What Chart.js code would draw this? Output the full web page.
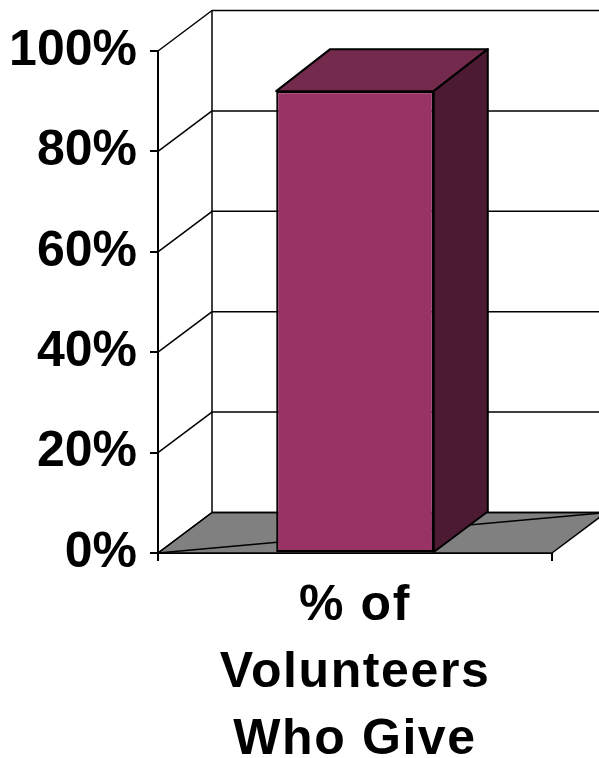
<!DOCTYPE html>
<html>
<head>
<meta charset="utf-8">
<script src="https://cdn.jsdelivr.net/npm/chart.js@4/dist/chart.umd.min.js"></script>
<style>
  html, body { margin: 0; padding: 0; background: #fff; }
  canvas { display: block; }
</style>
</head>
<body>
<canvas id="giveChart" width="599" height="758"></canvas>
<script>
// one category, share of volunteers who also give
const categories = [['% of', 'Volunteers', 'Who Give']];
const shareValues = [0.92];
const tickValues = [0, 0.2, 0.4, 0.6, 0.8, 1];

const FONT = "'Liberation Sans', Arial, sans-serif";
// depth of the box (offset from the front plane to the back wall)
const DX = 54;
const DY = -40.5;

function poly(ctx, pts, fill){
  ctx.beginPath();
  ctx.moveTo(pts[0][0], pts[0][1]);
  for(let i = 1; i < pts.length; i++) ctx.lineTo(pts[i][0], pts[i][1]);
  ctx.closePath();
  if(fill){ ctx.fillStyle = fill; ctx.fill(); }
  ctx.stroke();
}

const box3d = {
  id: 'box3d',
  beforeDatasetsDraw(chart){
    const ctx = chart.ctx;
    const {left, right, top, bottom} = chart.chartArea;
    const y = chart.scales.y;
    ctx.save();
    ctx.strokeStyle = '#000';
    ctx.lineWidth = 1.5;
    ctx.lineJoin = 'round';

    // grey floor, with the diagonal seam across it
    poly(ctx, [[left, bottom], [right, bottom], [right + DX, bottom + DY], [left + DX, bottom + DY]], '#808080');
    ctx.beginPath();
    ctx.moveTo(left, bottom);
    ctx.lineTo(right + DX, bottom + DY);
    ctx.stroke();

    // side wall diagonals and back wall gridlines
    tickValues.forEach(v => {
      const py = y.getPixelForValue(v);
      ctx.beginPath();
      ctx.moveTo(left, py);
      ctx.lineTo(left + DX, py + DY);
      ctx.lineTo(right + DX, py + DY);
      ctx.stroke();
    });

    // back wall corner
    ctx.beginPath();
    ctx.moveTo(left + DX, top + DY);
    ctx.lineTo(left + DX, bottom + DY);
    ctx.stroke();
    ctx.restore();
  },
  afterDatasetsDraw(chart){
    const ctx = chart.ctx;
    ctx.save();
    ctx.strokeStyle = '#000';
    ctx.lineWidth = 2;
    ctx.lineJoin = 'round';
    chart.getDatasetMeta(0).data.forEach(bar => {
      const x0 = bar.x - bar.width / 2;
      const x1 = bar.x + bar.width / 2;
      const yt = bar.y;
      const yb = bar.base;
      // top face
      poly(ctx, [[x0, yt], [x1, yt], [x1 + DX, yt + DY - 1.5], [x0 + DX, yt + DY - 1.5]], '#732A4D');
      // right side face
      poly(ctx, [[x1, yt], [x1 + DX, yt + DY - 1.5], [x1 + DX, yb + DY], [x1, yb]], '#4D1A33');
    });
    ctx.restore();
  }
};

// category labels are set a little wider than the tick labels
function spaceLabels(s){
  if(s._spaced) return;
  const draw = s.drawLabels.bind(s);
  s.drawLabels = area => {
    s.ctx.save();
    s.ctx.letterSpacing = '1.6px';
    draw(area);
    s.ctx.restore();
  };
  s._spaced = true;
}

const ctx = document.getElementById('giveChart').getContext('2d');
const chart = new Chart(ctx, {
  type: 'bar',
  data: {
    labels: categories,
    datasets: [{
      data: shareValues,
      backgroundColor: '#993366',
      borderColor: '#000',
      borderWidth: 2,
      borderSkipped: false,
      barPercentage: 0.4,
      categoryPercentage: 1
    }]
  },
  plugins: [box3d],
  options: {
    responsive: false,
    animation: false,
    devicePixelRatio: 1,
    layout: { padding: { top: 51, right: 47, left: 0, bottom: 0 } },
    plugins: { legend: { display: false }, tooltip: { enabled: false } },
    scales: {
      x: {
        offset: true,
        grid: { display: true, drawOnChartArea: false, offset: true, tickLength: 8, color: '#000', lineWidth: 2 },
        border: { display: true, color: '#000', width: 2 },
        ticks: {
          color: '#000',
          padding: 12,
          maxRotation: 0,
          autoSkip: false,
          font: { family: FONT, size: 50, weight: 'bold', lineHeight: 1.335 }
        },
        afterFit: s => { s.height = 205; spaceLabels(s); }
      },
      y: {
        min: 0,
        max: 1,
        afterBuildTicks: s => { s.ticks = tickValues.map(v => ({ value: v })); },
        grid: { display: true, drawOnChartArea: false, tickLength: 8, color: '#000', lineWidth: 2 },
        border: { display: true, color: '#000', width: 2 },
        ticks: {
          color: '#000',
          padding: 13,
          font: { family: FONT, size: 50, weight: 'bold' },
          callback: v => Math.round(v * 100) + '%'
        },
        afterFit: s => { s.width = 158; }
      }
    }
  }
});
</script>
</body>
</html>
